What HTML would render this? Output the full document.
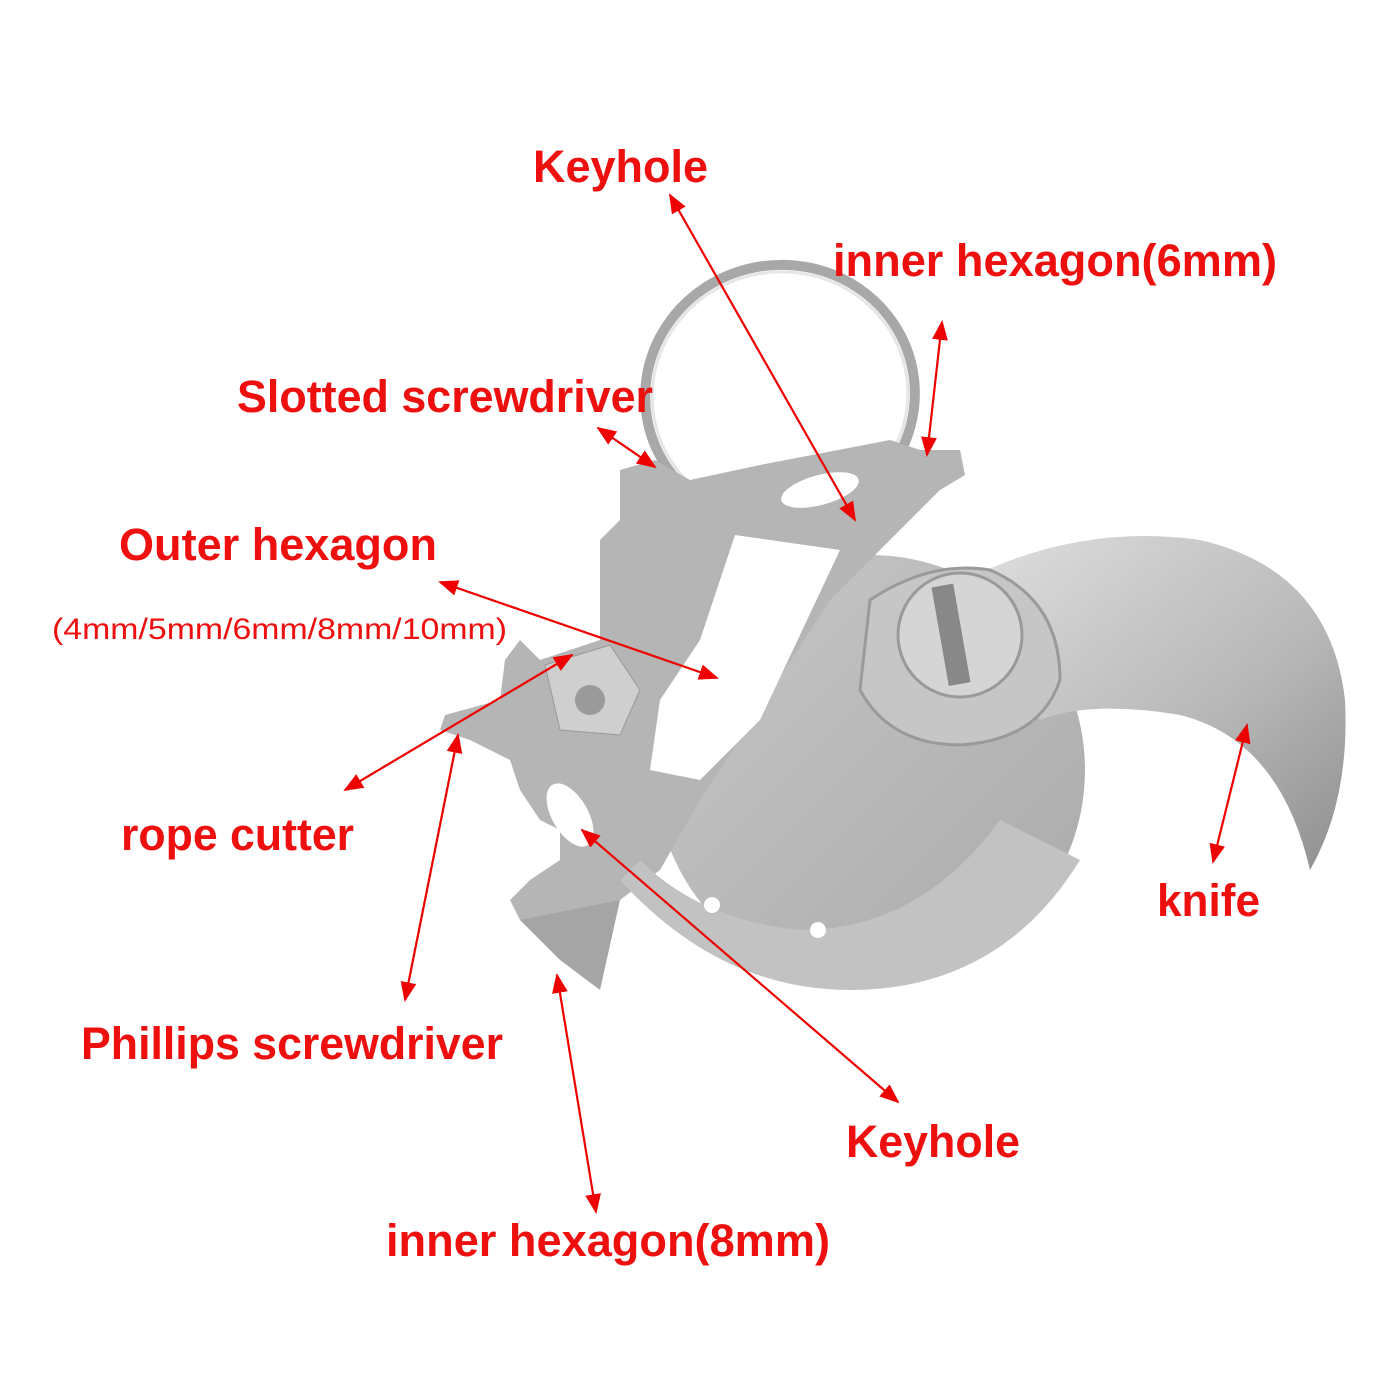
<!DOCTYPE html>
<html><head><meta charset="utf-8"><style>
html,body{margin:0;padding:0;background:#fff;}
svg{display:block}
.t{font-family:"Liberation Sans",Arial,sans-serif;font-weight:bold;fill:#ee0f0f;font-size:45px}
</style></head><body>
<svg width="1400" height="1400" viewBox="0 0 1400 1400" xmlns="http://www.w3.org/2000/svg">
<defs>
<marker id="a" viewBox="0 0 10 10" refX="9" refY="5" markerWidth="9" markerHeight="9" orient="auto-start-reverse"><path d="M0,1 L10,5 L0,9 z" fill="#e00"/></marker>
<linearGradient id="g" x1="0" y1="0" x2="1" y2="1"><stop offset="0" stop-color="#c8c8c8"/><stop offset="1" stop-color="#a9a9a9"/></linearGradient>
<linearGradient id="k" x1="0" y1="0" x2="1" y2="1"><stop offset="0" stop-color="#e2e2e2"/><stop offset="0.6" stop-color="#b8b8b8"/><stop offset="1" stop-color="#8f8f8f"/></linearGradient>
</defs>
<!-- ring -->
<ellipse cx="780" cy="395" rx="135" ry="130" fill="none" stroke="#a8a8a8" stroke-width="10" transform="rotate(-10 780 395)"/>
<ellipse cx="780" cy="395" rx="128" ry="123" fill="none" stroke="#e6e6e6" stroke-width="3" transform="rotate(-10 780 395)"/>
<!-- disk -->
<circle cx="870" cy="770" r="215" fill="url(#g)"/>
<!-- knife -->
<path d="M930 600 Q1060 520 1200 540 Q1330 570 1345 700 Q1350 800 1310 870 Q1280 740 1180 715 Q1090 700 1040 720 Z" fill="url(#k)"/>
<!-- body -->
<path d="M620 470 L655 460 L690 480 L760 465 L890 440 L920 450 L960 450 L965 475 L940 490 L830 600 L700 800 L660 870 L620 900 L560 920 L520 920 L510 900 L530 880 L560 860 L560 830 L540 820 L520 790 L510 760 L470 740 L440 730 L445 715 L500 700 L505 660 L520 640 L540 660 L600 640 L600 540 L620 520 Z" fill="#b5b5b5"/>
<path d="M620 880 Q720 990 850 990 Q1000 990 1080 860 L1000 820 Q920 930 800 930 Q700 920 640 860 Z" fill="#c2c2c2"/>
<path d="M520 920 L560 960 L600 990 L620 900 Z" fill="#a5a5a5"/>
<!-- holes -->
<path d="M735 535 L840 550 L760 720 L700 780 L650 770 L660 700 L700 640 Z" fill="#fff"/>
<ellipse cx="820" cy="490" rx="40" ry="15" fill="#fff" transform="rotate(-15 820 490)"/>
<ellipse cx="570" cy="815" rx="18" ry="35" fill="#fff" transform="rotate(-30 570 815)"/>
<circle cx="712" cy="905" r="8" fill="#fff"/><circle cx="818" cy="930" r="8" fill="#fff"/>
<!-- pivot -->
<path d="M870 600 Q930 560 990 570 Q1060 600 1060 680 Q1040 740 960 745 Q890 745 860 690 Z" fill="#c6c6c6" stroke="#9a9a9a" stroke-width="3"/>
<circle cx="960" cy="635" r="62" fill="#d5d5d5" stroke="#999" stroke-width="3"/>
<rect x="940" y="585" width="22" height="100" fill="#888" transform="rotate(-10 950 635)"/>
<!-- rope cutter plate -->
<path d="M545 665 L610 645 L640 690 L620 735 L560 730 Z" fill="#cfcfcf" stroke="#999"/>
<circle cx="590" cy="700" r="15" fill="#9a9a9a"/>
<!-- arrows -->
<g stroke="#e00" stroke-width="2.2" fill="none" marker-start="url(#a)" marker-end="url(#a)">
<line x1="670" y1="195" x2="855" y2="520"/>
<line x1="942" y1="322" x2="927" y2="455"/>
<line x1="598" y1="428" x2="655" y2="467"/>
<line x1="440" y1="582" x2="717" y2="678"/>
<line x1="345" y1="790" x2="572" y2="655"/>
<line x1="458" y1="735" x2="405" y2="1000"/>
<line x1="582" y1="830" x2="898" y2="1102"/>
<line x1="557" y1="975" x2="596" y2="1212"/>
<line x1="1247" y1="725" x2="1213" y2="862"/>
</g>
<!-- labels -->
<text class="t" x="533" y="182" textLength="175" lengthAdjust="spacingAndGlyphs">Keyhole</text>
<text class="t" x="833" y="276" textLength="444" lengthAdjust="spacingAndGlyphs">inner hexagon(6mm)</text>
<text class="t" x="237" y="412" textLength="416" lengthAdjust="spacingAndGlyphs">Slotted screwdriver</text>
<text class="t" x="119" y="560" textLength="318" lengthAdjust="spacingAndGlyphs">Outer hexagon</text>
<text class="t" x="52" y="639" style="font-weight:normal;font-size:30px" textLength="455" lengthAdjust="spacingAndGlyphs">(4mm/5mm/6mm/8mm/10mm)</text>
<text class="t" x="121" y="850" textLength="233" lengthAdjust="spacingAndGlyphs">rope cutter</text>
<text class="t" x="1157" y="916" textLength="103" lengthAdjust="spacingAndGlyphs">knife</text>
<text class="t" x="81" y="1059" textLength="422" lengthAdjust="spacingAndGlyphs">Phillips screwdriver</text>
<text class="t" x="846" y="1157" textLength="174" lengthAdjust="spacingAndGlyphs">Keyhole</text>
<text class="t" x="386" y="1256" textLength="444" lengthAdjust="spacingAndGlyphs">inner hexagon(8mm)</text>
</svg>
</body></html>
